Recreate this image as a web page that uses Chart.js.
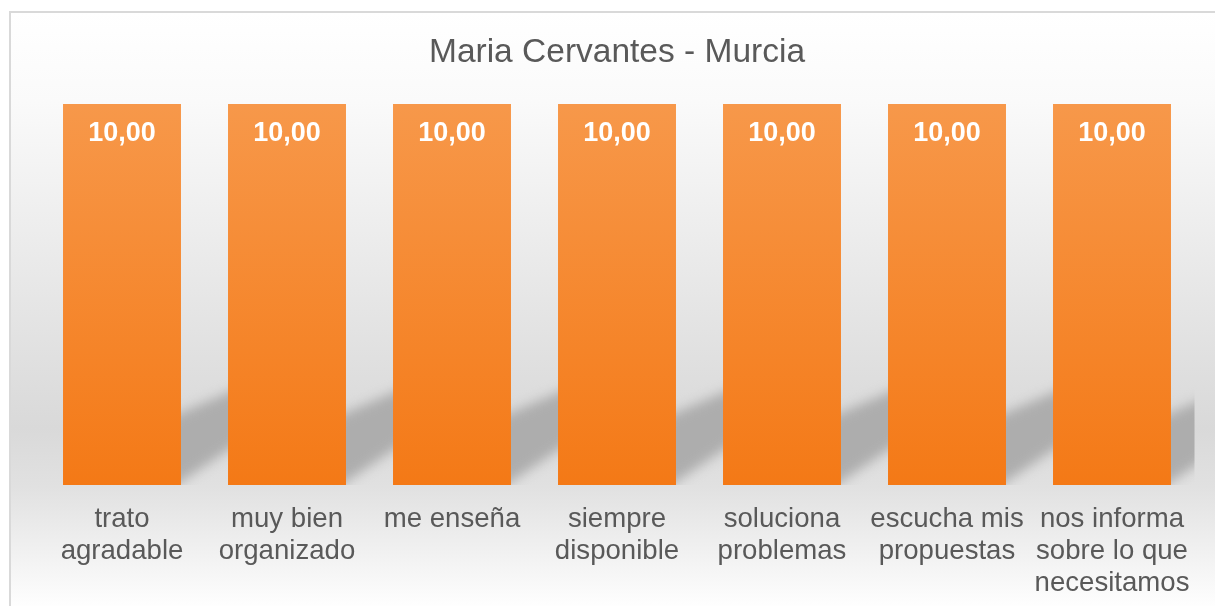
<!DOCTYPE html>
<html>
<head>
<meta charset="utf-8">
<title>Maria Cervantes - Murcia</title>
<script src="https://cdn.jsdelivr.net/npm/chart.js@4/dist/chart.umd.min.js"></script>
<style>
    html, body { margin: 0; padding: 0; background: #ffffff; }
    #contenedor { width: 1215px; height: 606px; }
</style>
</head>
<body>
<div id="contenedor"><canvas id="grafico"></canvas></div>
<script>
const titulo = 'Maria Cervantes - Murcia'
const categorias = [
    ['trato', 'agradable'],
    ['muy bien', 'organizado'],
    'me enseña',
    ['siempre', 'disponible'],
    ['soluciona', 'problemas'],
    ['escucha mis', 'propuestas'],
    ['nos informa', 'sobre lo que', 'necesitamos']
]
const valores = [10, 10, 10, 10, 10, 10, 10]
const escala_min = 0
const escala_max = 10

const fuente = '"Liberation Sans", Arial, sans-serif'

// fondo con degradado y borde del area del grafico
const fondo = {
    id: 'fondo',
    beforeDraw(chart) {
        const ctx = chart.ctx
        const w = chart.width
        const h = chart.height
        ctx.save()
        ctx.fillStyle = '#ffffff'
        ctx.fillRect(0, 0, w, h)
        const g = ctx.createLinearGradient(0, 12, 0, h)
        g.addColorStop(0, '#ffffff')
        g.addColorStop(0.15, '#fafafa')
        g.addColorStop(0.70, '#d9d9d9')
        g.addColorStop(0.80, '#e1e1e1')
        g.addColorStop(1, '#fefefe')
        ctx.fillStyle = g
        ctx.fillRect(10, 12, w, h)
        ctx.strokeStyle = '#d9d9d9'
        ctx.lineWidth = 2
        ctx.strokeRect(10, 12, w + 10, h + 10)
        ctx.restore()
    }
}

// sombra difuminada detras de cada barra
const sombras = {
    id: 'sombras',
    beforeDatasetsDraw(chart) {
        const ctx = chart.ctx
        const area = chart.chartArea
        const barras = chart.getDatasetMeta(0).data
        ctx.save()
        ctx.beginPath()
        ctx.rect(area.left, area.top, area.right - area.left, area.bottom - area.top)
        ctx.clip()
        ctx.filter = 'blur(6px)'
        ctx.fillStyle = '#adadad'
        for (let barra of barras) {
            const der = barra.x + barra.width / 2
            const base = barra.base
            const dx = 90
            ctx.beginPath()
            ctx.moveTo(der - 20, base - 72 + 0.43 * 20)
            ctx.lineTo(der + dx, base - 72 - 0.43 * dx)
            ctx.lineTo(der + dx, base - 3 - 0.68 * dx)
            ctx.lineTo(der - 20, base - 3 + 0.68 * 20)
            ctx.closePath()
            ctx.fill()
        }
        ctx.restore()
    }
}

// etiquetas de valor dentro de las barras
const etiquetas = {
    id: 'etiquetas',
    afterDatasetsDraw(chart) {
        const ctx = chart.ctx
        const barras = chart.getDatasetMeta(0).data
        ctx.save()
        ctx.fillStyle = '#ffffff'
        ctx.font = 'bold 27px ' + fuente
        ctx.textAlign = 'center'
        ctx.textBaseline = 'middle'
        barras.forEach((barra, i) => {
            const texto = valores[i].toFixed(2).replace('.', ',')
            ctx.fillText(texto, barra.x, barra.y + 30)
        })
        ctx.restore()
    }
}

function color_barra(context) {
    const area = context.chart.chartArea
    if (!area) return '#f58a30'
    const g = context.chart.ctx.createLinearGradient(0, area.top, 0, area.bottom)
    g.addColorStop(0, '#f7984a')
    g.addColorStop(1, '#f47916')
    return g
}

new Chart(document.querySelector('#grafico'), {
    type: 'bar',
    data: {
        labels: categorias,
        datasets: [{
            data: valores,
            backgroundColor: color_barra,
            borderWidth: 0,
            categoryPercentage: 1,
            barPercentage: 0.715
        }]
    },
    options: {
        responsive: true,
        maintainAspectRatio: false,
        animation: false,
        devicePixelRatio: 1,
        layout: {
            padding: { left: 39.5, right: 20.5, top: 13.5, bottom: -11 }
        },
        plugins: {
            legend: { display: false },
            tooltip: { enabled: false },
            title: {
                display: true,
                text: titulo,
                color: '#595959',
                font: { family: fuente, size: 33.5, weight: 'normal', lineHeight: 1.2 },
                padding: { top: 19, bottom: 31.3 }
            }
        },
        scales: {
            x: {
                grid: { display: false, drawTicks: false },
                border: { display: false },
                ticks: {
                    color: '#595959',
                    font: { family: fuente, size: 27.6, lineHeight: 32 / 27.6 },
                    padding: 18,
                    maxRotation: 0,
                    autoSkip: false
                }
            },
            y: {
                display: false,
                min: escala_min,
                max: escala_max
            }
        }
    },
    plugins: [fondo, sombras, etiquetas]
})
</script>
</body>
</html>
